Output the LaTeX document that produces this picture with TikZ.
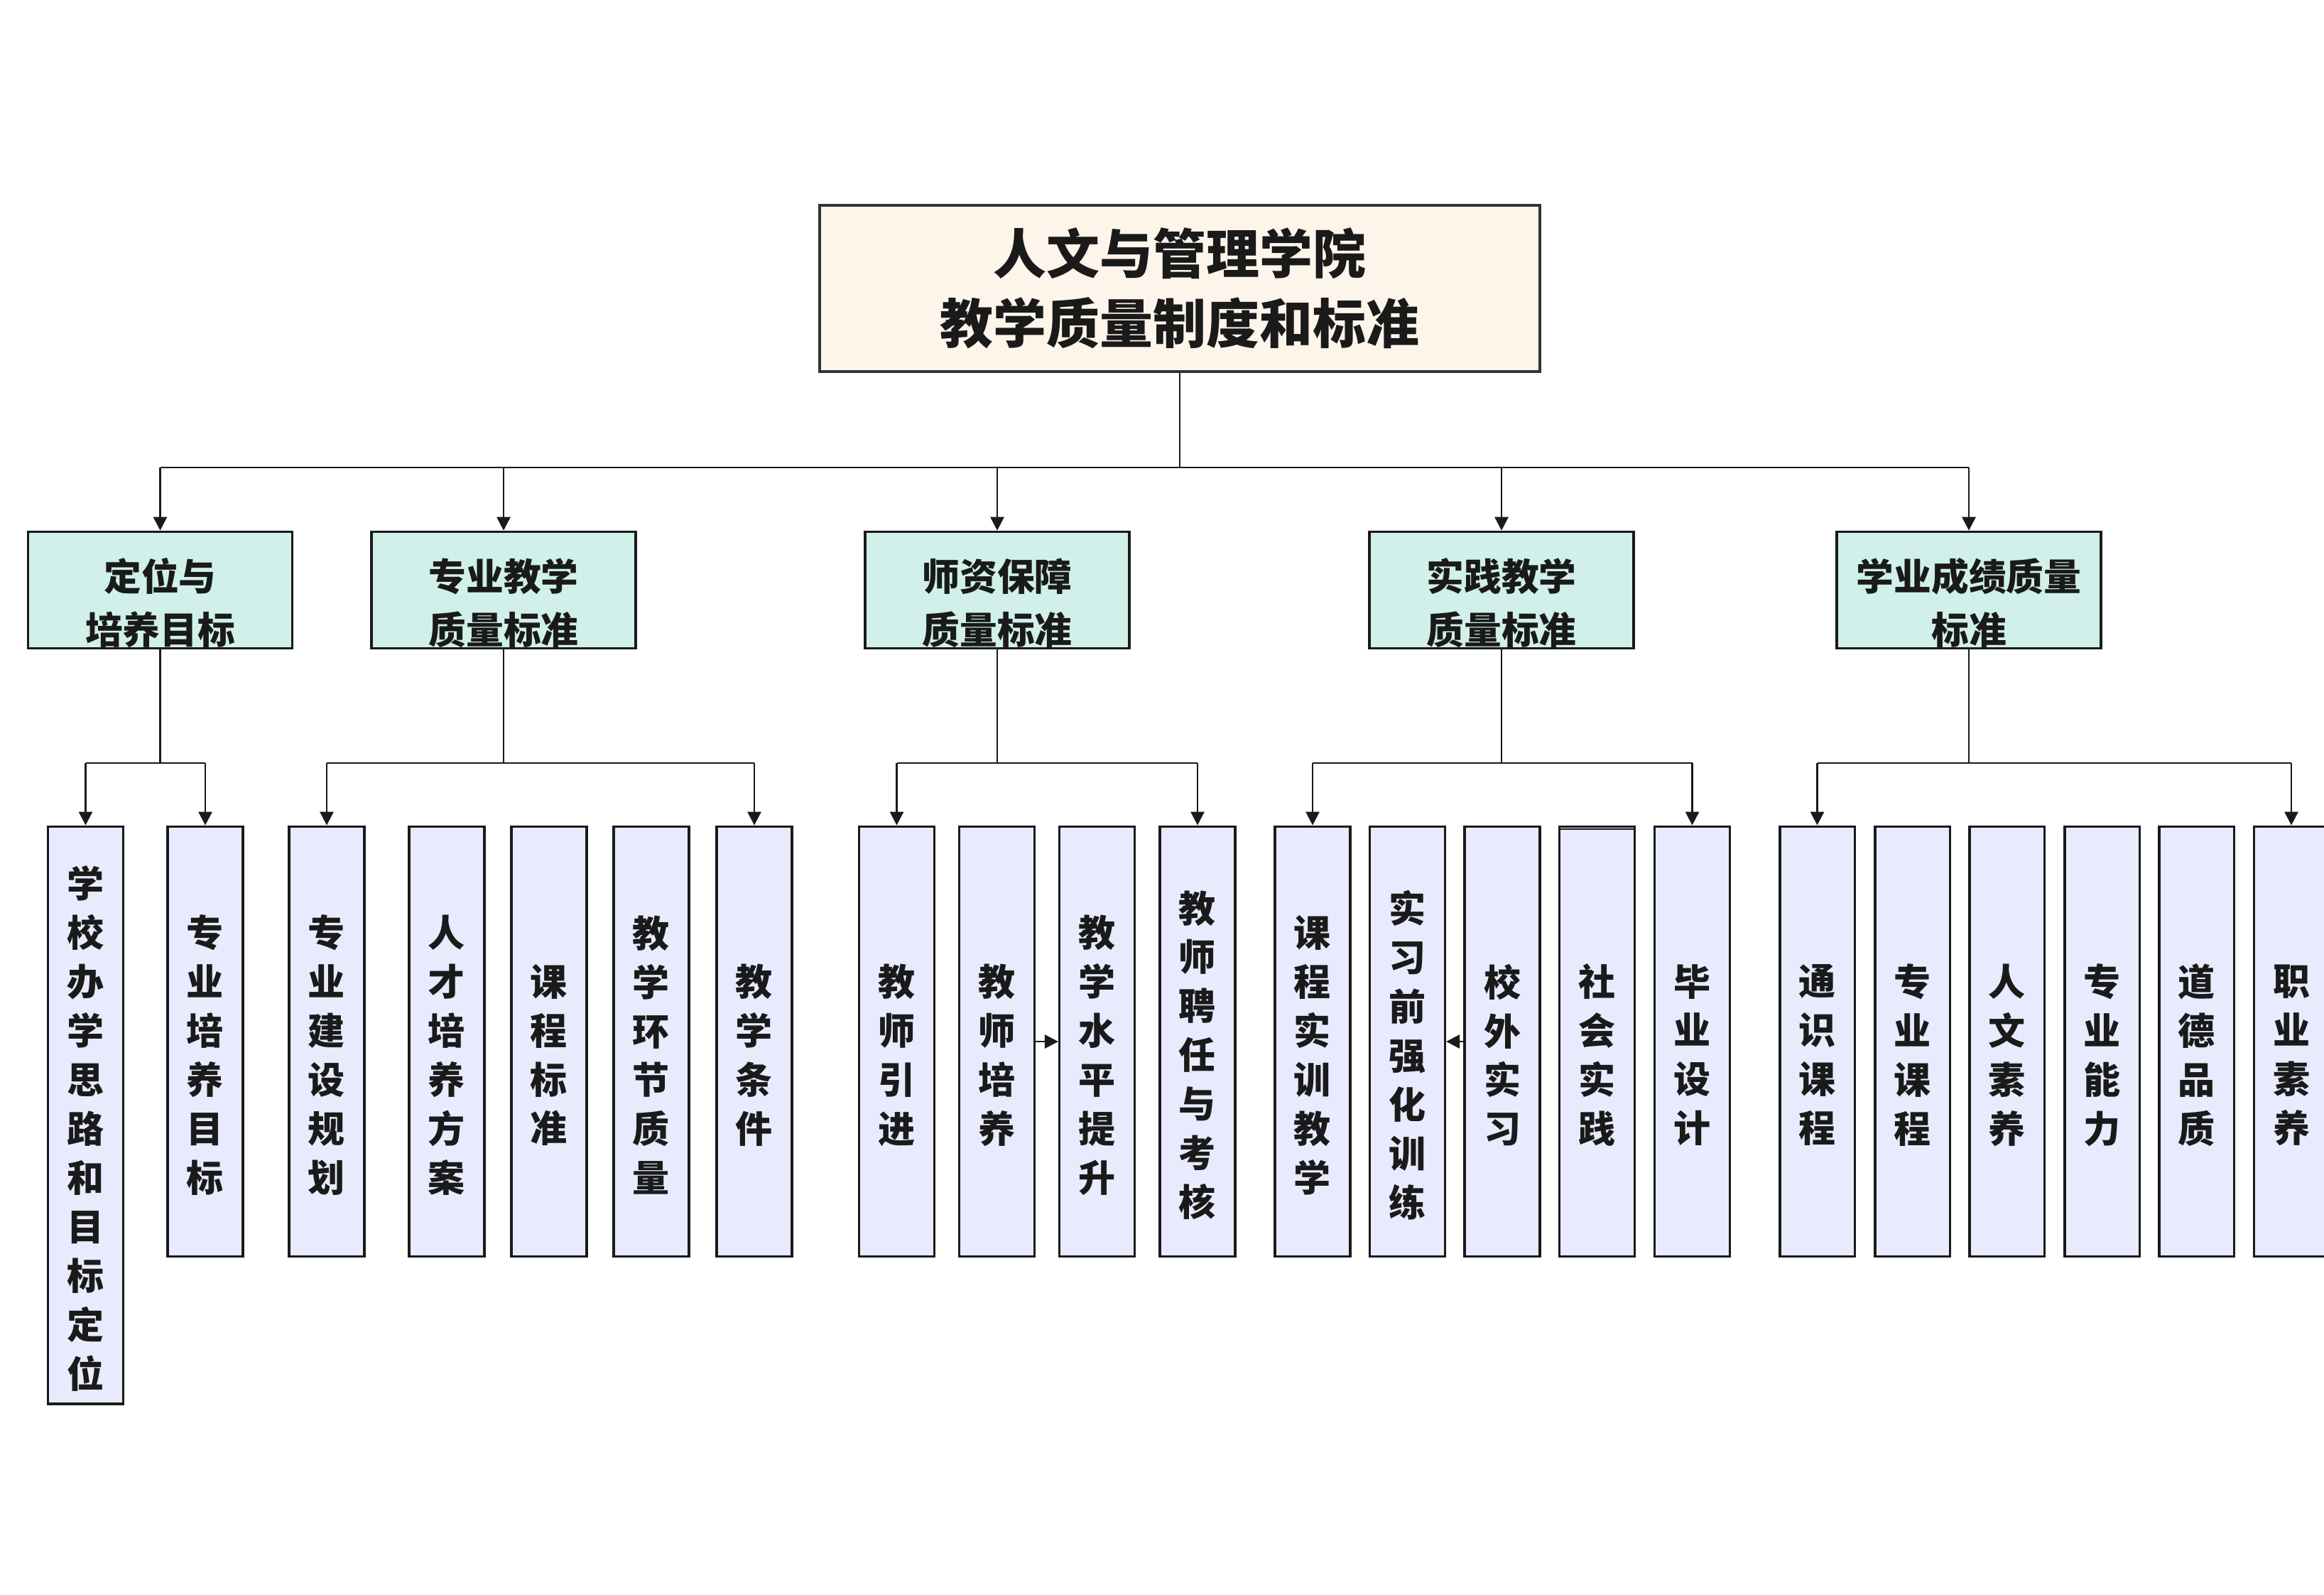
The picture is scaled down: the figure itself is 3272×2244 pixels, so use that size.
\documentclass[tikz,border=0pt]{standalone}
\usepackage{fontspec}
\setmainfont{Noto Sans CJK SC}
\usetikzlibrary{arrows.meta}
\definecolor{cream}{HTML}{FEF5EA}
\definecolor{mint}{HTML}{D0F0E9}
\definecolor{lav}{HTML}{E8EBFD}
\definecolor{ink}{HTML}{1A1A1A}
\definecolor{topline}{HTML}{333333}
\newcommand\leafnode[5]{%
  \node[leafbox,#4] (#1) at (#2,#3) {};
  \node[leaftext] (#1t) at ([yshift=-0.19cm]#1.center) {#5};}
\newcommand\midnode[3]{%
  \node[midbox] (#1) at (#2,830.5) {};
  \node[midtext] (#1t) at ([yshift=-0.18cm]#1.center) {#3};}
\begin{document}
\begin{tikzpicture}[x=0.01cm,y=-0.01cm,
  topbox/.style={draw=topline, fill=cream, line width=0.04cm, minimum width=10.14cm, minimum height=2.34cm, inner sep=0pt},
  midbox/.style={draw=ink, fill=mint, line width=0.035cm, minimum width=3.72cm, minimum height=1.64cm, inner sep=0pt},
  leafbox/.style={draw=ink, fill=lav, line width=0.035cm, minimum width=1.055cm, minimum height=6.05cm, inner sep=0pt},
  toptext/.style={font=\bfseries\fontsize{21.3pt}{27.9pt}\selectfont, align=center, text=ink, inner sep=0pt},
  midtext/.style={font=\bfseries\fontsize{15pt}{21.3pt}\selectfont, align=center, text=ink, inner sep=0pt},
  leaftext/.style={font=\bfseries\fontsize{14.8pt}{19.6pt}\selectfont, align=center, text=ink, inner sep=0pt},
  conn/.style={draw=ink, line width=0.028cm},
  arr/.style={conn, -{Triangle[length=0.19cm,width=0.19cm]}}
]
\useasboundingbox (0,0) rectangle (3272,2244);
\fill[white] (0,0) rectangle (3272,2244);

% root
\node[topbox] (top) at (1661,406) {};
\node[toptext] (topt) at (top.center) {人文与管理学院\\教学质量制度和标准};

% second level
\midnode{m1}{225.5}{定位与\\培养目标}
\midnode{m2}{709}{专业教学\\质量标准}
\midnode{m3}{1404}{师资保障\\质量标准}
\midnode{m4}{2114}{实践教学\\质量标准}
\midnode{m5}{2772}{学业成绩质量\\标准}

% leaves
\leafnode{a1}{120.5}{1569.5}{minimum height=8.12cm}{学\\校\\办\\学\\思\\路\\和\\目\\标\\定\\位}
\leafnode{a2}{289}{1466}{}{专\\业\\培\\养\\目\\标}

\leafnode{b1}{460}{1466}{}{专\\业\\建\\设\\规\\划}
\leafnode{b2}{629}{1466}{}{人\\才\\培\\养\\方\\案}
\leafnode{b3}{773}{1466}{}{课\\程\\标\\准}
\leafnode{b4}{917}{1466}{}{教\\学\\环\\节\\质\\量}
\leafnode{b5}{1062}{1466}{}{教\\学\\条\\件}

\leafnode{c1}{1262.5}{1466}{}{教\\师\\引\\进}
\leafnode{c2}{1403.5}{1466}{}{教\\师\\培\\养}
\leafnode{c3}{1544.5}{1466}{}{教\\学\\水\\平\\提\\升}
\leafnode{c4}{1686}{1466}{}{教\\师\\聘\\任\\与\\考\\核}

\leafnode{d1}{1848}{1466}{}{课\\程\\实\\训\\教\\学}
\leafnode{d2}{1981.5}{1466}{}{实\\习\\前\\强\\化\\训\\练}
\leafnode{d3}{2115}{1466}{}{校\\外\\实\\习}
\leafnode{d4}{2248.5}{1466}{}{社\\会\\实\\践}
\leafnode{d5}{2382.5}{1466}{}{毕\\业\\设\\计}

\leafnode{e1}{2558.5}{1466}{}{通\\识\\课\\程}
\leafnode{e2}{2692.5}{1466}{}{专\\业\\课\\程}
\leafnode{e3}{2825.5}{1466}{}{人\\文\\素\\养}
\leafnode{e4}{2959.5}{1466}{}{专\\业\\能\\力}
\leafnode{e5}{3092.5}{1466}{}{道\\德\\品\\质}
\leafnode{e6}{3226}{1466}{}{职\\业\\素\\养}

% extra top line on 社会实践
\draw[ink, line width=0.018cm] ([yshift=-0.05cm]d4.north west) -- ([yshift=-0.05cm]d4.north east);

% root connectors
\coordinate (bus) at (1661,658);
\coordinate (gbus) at (0,1074);
\draw[conn] (top.south) -- (bus);
\draw[conn] (m1.north |- bus) -- (m5.north |- bus);
\foreach \m in {m1,m2,m3,m4,m5} {\draw[arr] (\m.north |- bus) -- (\m.north);}

% group connectors
\foreach \m/\f/\l in {m1/a1/a2, m2/b1/b5, m3/c1/c4, m4/d1/d5, m5/e1/e6} {
  \draw[conn] (\m.south) -- (\m.south |- gbus);
  \draw[conn] (\f.north |- gbus) -- (\l.north |- gbus);
  \draw[arr] (\f.north |- gbus) -- (\f.north);
  \draw[arr] (\l.north |- gbus) -- (\l.north);
}

% side arrows
\draw[arr] (c2.east) -- (c3.west);
\draw[arr] (d3.west) -- (d2.east);
\end{tikzpicture}
\end{document}
